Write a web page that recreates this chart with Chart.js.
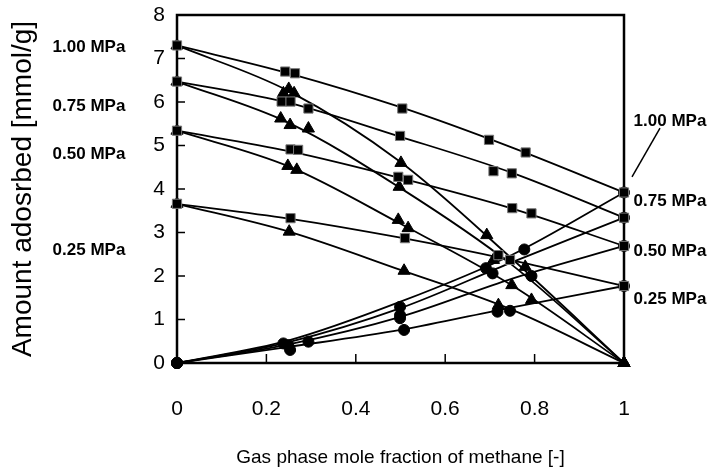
<!DOCTYPE html>
<html><head><meta charset="utf-8">
<script src="https://cdn.jsdelivr.net/npm/chart.js@4/dist/chart.umd.min.js"></script>
<style>html,body{margin:0;padding:0;background:#fff}#wrap{width:724px;height:472px}</style>
</head><body><div id="wrap"><canvas id="c"></canvas></div>
<script>
// fitted curves, read at these mole fractions
const curveX=[0,0.25,0.5,0.75,1]
const total100=[7.3,6.66,5.88,4.95,3.92]
const total075=[6.47,5.98,5.2,4.37,3.34]
const total050=[5.34,4.87,4.25,3.55,2.69]
const total025=[3.66,3.32,2.88,2.36,1.77]
const co2_100=[7.3,6.25,4.62,2.39,0]
const co2_075=[6.47,5.52,4.02,2.25,0]
const co2_050=[5.34,4.52,3.2,1.78,0]
const co2_025=[3.66,3.02,2.14,1.22,0]
const ch4_100=[0,0.52,1.41,2.49,3.92]
const ch4_075=[0,0.48,1.26,2.32,3.34]
const ch4_050=[0,0.43,1.06,1.94,2.69]
const ch4_025=[0,0.37,0.76,1.28,1.77]

// measured points
const sq100X=[0,0.242,0.264,0.504,0.698,0.78,1], sq100Y=[7.3,6.7,6.66,5.85,5.13,4.84,3.92]
const sq075X=[0,0.234,0.254,0.294,0.499,0.708,0.749,1], sq075Y=[6.47,6.01,6.01,5.85,5.22,4.41,4.36,3.34]
const sq050X=[0,0.254,0.271,0.495,0.517,0.75,0.793,1], sq050Y=[5.34,4.91,4.9,4.28,4.21,3.56,3.44,2.69]
const sq025X=[0,0.254,0.51,0.719,0.745,1], sq025Y=[3.66,3.33,2.87,2.48,2.37,1.77]
const tr100X=[0,0.238,0.25,0.262,0.501,0.693,1], tr100Y=[7.3,6.2,6.3,6.2,4.6,2.94,0]
const tr075X=[0,0.232,0.253,0.294,0.497,0.708,0.779,1], tr075Y=[6.47,5.62,5.47,5.39,4.05,2.37,2.21,0]
const tr050X=[0,0.248,0.268,0.495,0.517,0.749,0.793,1], tr050Y=[5.34,4.53,4.44,3.29,3.1,1.79,1.45,0]
const tr025X=[0,0.251,0.508,0.719,1], tr025Y=[3.66,3.02,2.12,1.33,0]
const ci100X=[0,0.238,0.499,0.777,1], ci100Y=[0,0.45,1.29,2.61,3.92]
const ci075X=[0,0.249,0.499,0.691,1], ci075Y=[0,0.41,1.1,2.18,3.34]
const ci050X=[0,0.253,0.499,0.706,0.793,1], ci050Y=[0,0.3,1.03,2.06,2.0,2.69]
const ci025X=[0,0.294,0.508,0.717,0.745,1], ci025Y=[0,0.49,0.76,1.18,1.2,1.77]

const xTicks=[0,0.2,0.4,0.6,0.8,1]
const yTicks=[0,1,2,3,4,5,6,7,8]
const leftLabels=["1.00 MPa","0.75 MPa","0.50 MPa","0.25 MPa"], leftAt=[7.25,5.9,4.8,2.58]
const rightLabels=["1.00 MPa","0.75 MPa","0.50 MPa","0.25 MPa"], rightAt=[5.55,3.71,2.56,1.47]

const pts=(xs,ys)=>xs.map((v,i)=>({x:v,y:ys[i]}))
const curve=ys=>({data:pts(curveX,ys),showLine:true,pointRadius:0,borderColor:"#000",borderWidth:1.8,
  cubicInterpolationMode:"monotone",clip:false,order:1})
const mark=(xs,ys,style)=>({data:pts(xs,ys),showLine:false,pointStyle:style,clip:false,order:0,
  pointRadius:style=="rect"?6.5:style=="triangle"?7:5.5,
  backgroundColor:"#000",borderColor:style=="rect"?"#777":"#000",borderWidth:1})

const font="'Liberation Sans', Arial, sans-serif"

const frame={id:"frame",
  beforeDatasetsDraw(c){
    const {ctx,chartArea:a,scales:{x,y}}=c
    ctx.save()
    ctx.strokeStyle="#000";ctx.lineWidth=2.5
    ctx.strokeRect(a.left,a.top,a.right-a.left,a.bottom-a.top)
    ctx.lineWidth=1.5;ctx.beginPath()
    yTicks.forEach(v=>{const p=y.getPixelForValue(v);ctx.moveTo(a.left,p);ctx.lineTo(a.left+8,p)})
    xTicks.forEach(v=>{const p=x.getPixelForValue(v);ctx.moveTo(p,a.bottom);ctx.lineTo(p,a.bottom-9)})
    ctx.stroke()
    ctx.fillStyle="#000";ctx.font="bold 17px "+font;ctx.textAlign="center";ctx.textBaseline="middle"
    leftLabels.forEach((t,i)=>ctx.fillText(t,a.left-88,y.getPixelForValue(leftAt[i])))
    rightLabels.forEach((t,i)=>ctx.fillText(t,a.right+46,y.getPixelForValue(rightAt[i])))
    ctx.lineWidth=1.5;ctx.beginPath()
    ctx.moveTo(a.right+36,y.getPixelForValue(5.4));ctx.lineTo(a.right+8,y.getPixelForValue(4.28))
    ctx.stroke()
    ctx.restore()
  }}

new Chart(document.getElementById("c"),{
  type:"scatter",
  data:{datasets:[
    mark(sq100X,sq100Y,"rect"),mark(sq075X,sq075Y,"rect"),mark(sq050X,sq050Y,"rect"),mark(sq025X,sq025Y,"rect"),
    mark(tr100X,tr100Y,"triangle"),mark(tr075X,tr075Y,"triangle"),mark(tr050X,tr050Y,"triangle"),mark(tr025X,tr025Y,"triangle"),
    mark(ci100X,ci100Y,"circle"),mark(ci075X,ci075Y,"circle"),mark(ci050X,ci050Y,"circle"),mark(ci025X,ci025Y,"circle"),
    curve(total100),curve(total075),curve(total050),curve(total025),
    curve(co2_100),curve(co2_075),curve(co2_050),curve(co2_025),
    curve(ch4_100),curve(ch4_075),curve(ch4_050),curve(ch4_025)
  ]},
  options:{
    responsive:true,maintainAspectRatio:false,animation:false,
    layout:{padding:{top:15,right:100,left:0,bottom:0}},
    plugins:{legend:{display:false},tooltip:{enabled:false}},
    scales:{
      x:{type:"linear",min:0,max:1,
        afterFit:s=>{s.height=109;s.paddingLeft=0;s.paddingRight=0},
        afterBuildTicks:s=>{s.ticks=xTicks.map(v=>({value:v}))},
        grid:{display:false,drawTicks:false},border:{display:false},
        ticks:{color:"#000",padding:34,font:{family:font,size:21},
          callback:v=>v==0||v==1?String(v):v.toFixed(1)},
        title:{display:true,text:"Gas phase mole fraction of methane [-]",color:"#000",
          font:{family:font,size:19},padding:{top:0,bottom:3}}},
      y:{min:0,max:8,
        afterFit:s=>{s.width=177;s.paddingTop=0;s.paddingBottom=0},
        afterBuildTicks:s=>{s.ticks=yTicks.map(v=>({value:v}))},
        grid:{display:false,drawTicks:false},border:{display:false},
        ticks:{color:"#000",padding:12,font:{family:font,size:21}},
        title:{display:true,text:"Amount adosrbed [mmol/g]",color:"#000",
          font:{family:font,size:28},padding:{top:6,bottom:0}}}
    }
  },
  plugins:[frame]
})
</script></body></html>
